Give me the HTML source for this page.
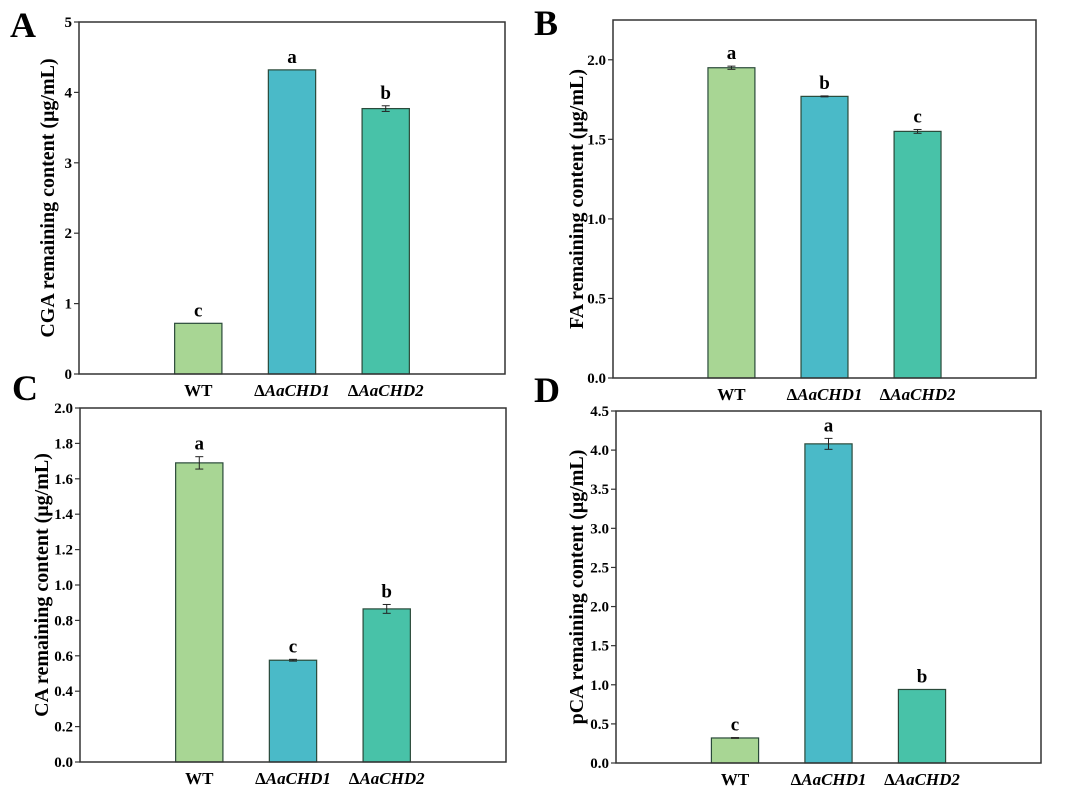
<!DOCTYPE html>
<html><head><meta charset="utf-8"><style>
html,body{margin:0;padding:0;background:#fff;}
svg{display:block;font-family:"Liberation Serif",serif;font-weight:bold;}
</style></head><body>
<svg id="fig" width="1080" height="794" viewBox="0 0 1080 794"></svg>
<script>
const categories = ["WT", "ΔAaCHD1", "ΔAaCHD2"];
const valuesA = [0.72, 4.32, 3.77];
const errA = [0.0, 0.0, 0.04];
const lettersA = ["c", "a", "b"];
const ticksA = [0, 1, 2, 3, 4, 5];
const valuesB = [1.95, 1.77, 1.55];
const errB = [0.01, 0.003, 0.012];
const lettersB = ["a", "b", "c"];
const ticksB = [0.0, 0.5, 1.0, 1.5, 2.0];
const valuesC = [1.69, 0.575, 0.865];
const errC = [0.035, 0.005, 0.025];
const lettersC = ["a", "c", "b"];
const ticksC = [0.0, 0.2, 0.4, 0.6, 0.8, 1.0, 1.2, 1.4, 1.6, 1.8, 2.0];
const valuesD = [0.32, 4.08, 0.94];
const errD = [0.005, 0.07, 0.0];
const lettersD = ["c", "a", "b"];
const ticksD = [0.0, 0.5, 1.0, 1.5, 2.0, 2.5, 3.0, 3.5, 4.0, 4.5];

const colors = ["#a8d694", "#4abac8", "#48c2a8"];
const NS = "http://www.w3.org/2000/svg";
const svg = document.getElementById("fig");
function mk(tag, attrs, parent, text) {
  const e = document.createElementNS(NS, tag);
  for (const k in attrs) e.setAttribute(k, attrs[k]);
  if (text !== undefined) e.textContent = text;
  (parent || svg).appendChild(e);
  return e;
}
function panel(id, letter, lx, ly, L, R, T, B, ymax, ticks, dec, vals, errs, lets, title, toff) {
  const g = mk("g", {});
  
  
  const W = R - L;
  const y = v => B - (v / ymax) * (B - T);
  const xc = i => L + W * (0.28 + 0.22 * i);
  const bw = W * 0.111;
  const pl = mk("text", {x: lx, y: ly, "font-size": 36}, g, letter);
  
  
  ticks.forEach(t => {
    mk("line", {x1: L - 5, x2: L, y1: y(t), y2: y(t), stroke: "#333", "stroke-width": 1.2}, g);
    const tl = mk("text", {x: L - 7, y: y(t) + 5, "font-size": 15, "text-anchor": "end"}, g, t.toFixed(dec));
    
    
  });
  vals.forEach((v, i) => {
    const r = mk("rect", {x: xc(i) - bw / 2, y: y(v), width: bw, height: B - y(v), fill: colors[i], stroke: "#2a4a3a", "stroke-width": 1.2}, g);
    
    
    const e = errs[i];
    if (e > 0) {
      mk("line", {x1: xc(i), x2: xc(i), y1: y(v + e), y2: y(v - e), stroke: "#222", "stroke-width": 1}, g);
      mk("line", {x1: xc(i) - 4, x2: xc(i) + 4, y1: y(v + e), y2: y(v + e), stroke: "#222", "stroke-width": 1}, g);
      mk("line", {x1: xc(i) - 4, x2: xc(i) + 4, y1: y(v - e), y2: y(v - e), stroke: "#222", "stroke-width": 1}, g);
    }
    const sl = mk("text", {x: xc(i), y: y(v + e) - 7, "font-size": 19, "text-anchor": "middle"}, g, lets[i]);
    
    
    const cl = mk("text", {x: xc(i), y: B + 22, "font-size": 17, "text-anchor": "middle"}, g);
    
    
    if (i === 0) cl.textContent = categories[i];
    else {
      mk("tspan", {}, cl, "Δ");
      mk("tspan", {"font-style": "italic"}, cl, categories[i].slice(1));
    }
  });
  const fr = mk("rect", {x: L, y: T, width: W, height: B - T, fill: "none", stroke: "#333", "stroke-width": 1.5}, g);
  
  
  const cy = (T + B) / 2;
  const at = mk("text", {x: 0, y: 0, "font-size": 20, "text-anchor": "middle", transform: `translate(${L - toff},${cy}) rotate(-90)`}, g, title);
  
  
}
panel("a", "A", 10, 37, 79, 505, 22, 374, 5, ticksA, 0, valuesA, errA, lettersA, "CGA remaining content (μg/mL)", 25);
panel("b", "B", 534, 35, 613, 1036, 20, 378, 2.25, ticksB, 1, valuesB, errB, lettersB, "FA remaining content (μg/mL)", 30);
panel("c", "C", 12, 400, 80, 506, 408, 762, 2.0, ticksC, 1, valuesC, errC, lettersC, "CA remaining content (μg/mL)", 32);
panel("d", "D", 534, 402, 616, 1041, 411, 763, 4.5, ticksD, 1, valuesD, errD, lettersD, "pCA remaining content (μg/mL)", 33);
</script>
</body></html>
